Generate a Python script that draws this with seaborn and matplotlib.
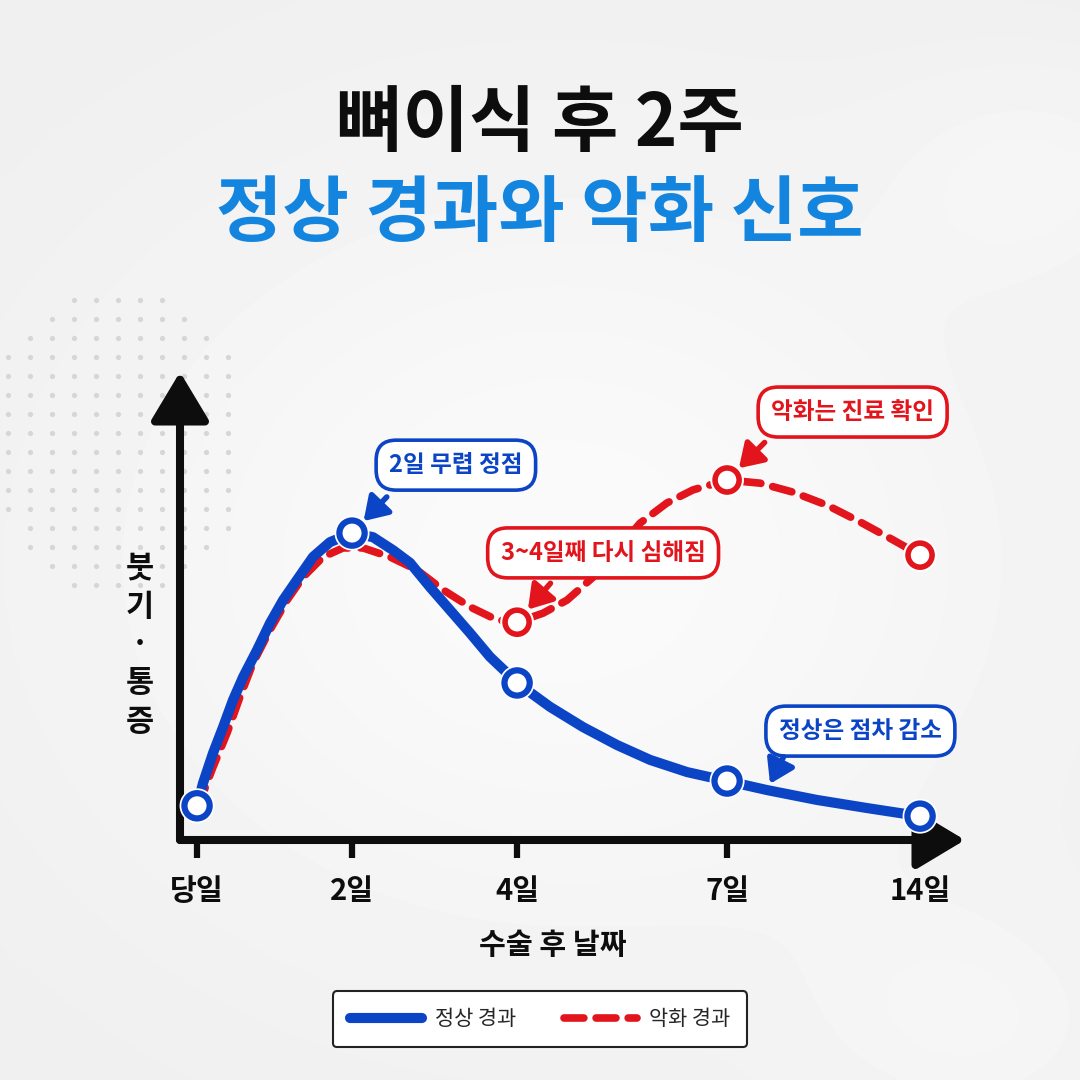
import numpy as np
import pandas as pd
import matplotlib.pyplot as plt
import matplotlib.patheffects as pe
import seaborn as sns

sns.set_theme(style='white')
plt.rcParams['font.family'] = ['Noto Sans CJK KR', 'DejaVu Sans']

## data
days = ['당일', '2일', '4일', '7일', '14일']
day_pos = [0.0, 1.0, 2.065, 3.42, 4.665]
normal_day = [0.76, 6.82, 3.49, 1.31, 0.53]
worse_day = [0.76, 6.49, 4.84, 8.0, 6.33]

# traced curve samples
normal_x = [0.0, 0.039, 0.103, 0.168, 0.232, 0.297, 0.387, 0.471, 0.555, 0.645,
            0.748, 0.858, 1.0, 1.135, 1.265, 1.374, 1.503, 1.632, 1.761, 1.890,
            2.0, 2.065, 2.277, 2.490, 2.710, 2.923, 3.161, 3.42, 3.677, 4.0,
            4.323, 4.665]
normal_y = [0.76, 1.27, 1.93, 2.51, 3.11, 3.62, 4.22, 4.82, 5.33, 5.78,
            6.29, 6.62, 6.82, 6.73, 6.44, 6.16, 5.62, 5.11, 4.60, 4.07,
            3.71, 3.49, 2.96, 2.51, 2.11, 1.78, 1.51, 1.31, 1.11, 0.89,
            0.71, 0.53]
worse_x = [0.0, 0.039, 0.103, 0.194, 0.277, 0.361, 0.471, 0.581, 0.684, 0.813,
           0.942, 1.071, 1.245, 1.419, 1.587, 1.761, 1.935, 2.065, 2.232, 2.387,
           2.555, 2.710, 2.858, 3.032, 3.2, 3.42, 3.632, 3.845, 4.065, 4.277,
           4.490, 4.665]
worse_y = [0.76, 1.04, 1.62, 2.38, 3.18, 3.93, 4.67, 5.33, 5.84, 6.29,
           6.49, 6.49, 6.29, 6.0, 5.56, 5.18, 4.89, 4.84, 5.04, 5.33,
           5.84, 6.44, 7.04, 7.49, 7.78, 8.0, 7.93, 7.73, 7.44, 7.07,
           6.67, 6.33]

BLUE = '#0b45c6'
RED = '#e2141c'
TITLE_BLUE = '#1485df'
INK = '#0d0d0d'

fig = plt.figure(figsize=(10.8, 10.8), dpi=100, facecolor='#f1f1f1')

## soft background
bg = fig.add_axes([0, 0, 1, 1], zorder=-5)
bg.axis('off')
yy, xx = np.mgrid[0:1080:4, 0:1080:4]
light = (0.935
         + 0.045 * np.exp(-(((xx - 560) / 520) ** 2 + ((yy - 560) / 430) ** 2))
         + 0.02 * np.exp(-(((xx - 1040) / 160) ** 2 + ((yy - 170) / 120) ** 2))
         + 0.02 * np.exp(-(((xx - 980) / 200) ** 2 + ((yy - 1030) / 140) ** 2)))
bg.imshow(np.clip(light, 0, 1), cmap='gray', vmin=0, vmax=1,
          extent=(0, 1080, 1080, 0), aspect='auto', interpolation='bilinear')
bg.set_xlim(0, 1080)
bg.set_ylim(1080, 0)
gx, gy = np.meshgrid(np.arange(8, 250, 22), np.arange(300, 590, 19))
keep = ((gx - 120) / 135) ** 2 + ((gy - 440) / 155) ** 2 < 1
bg.scatter(gx[keep], gy[keep], s=14, color='#d6d6d6', lw=0)

## chart axes
ax = fig.add_axes([180 / 1080, 240 / 1080, 785 / 1080, 468 / 1080])
ax.set_facecolor('none')
ax.set_xlim(-0.11, 4.955)
ax.set_ylim(0, 10.4)
for s in ax.spines.values():
    s.set_visible(False)
ax.set_yticks([])
ax.set_xticks(day_pos, days)
ax.tick_params(axis='x', bottom=True, direction='out', length=13, width=4.5,
               color=INK, pad=13, labelsize=21, labelcolor=INK)
for t in ax.get_xticklabels():
    t.set_fontweight('bold')

# axis arrows
head = dict(arrowstyle='-|>,head_length=1.5,head_width=0.9', lw=5.8,
            color=INK, shrinkA=0, shrinkB=0, mutation_scale=20)
ax.annotate('', xy=(4.955, 0), xytext=(-0.11, 0), xycoords='data',
            arrowprops=head, annotation_clip=False)
ax.annotate('', xy=(-0.11, 10.4), xytext=(-0.11, 0), xycoords='data',
            arrowprops=head, annotation_clip=False)

# curves
sns.lineplot(x=worse_x, y=worse_y, sort=False, color=RED, lw=5.5, ax=ax,
             label='악화 경과', zorder=3, clip_on=False)
red_line = ax.lines[-1]
red_line.set_dashes((2.6, 1.6))
red_line.set_dash_capstyle('round')
red_line.set_dash_joinstyle('round')
sns.lineplot(x=normal_x, y=normal_y, sort=False, color=BLUE, lw=7.3, ax=ax,
             label='정상 경과', zorder=4, clip_on=False)
ax.lines[-1].set_solid_capstyle('round')
ax.lines[-1].set_solid_joinstyle('round')

m_red = ax.scatter(day_pos[2:], worse_day[2:], s=300, facecolor='white',
                   edgecolor=RED, lw=4, zorder=5, clip_on=False)
m_blue = ax.scatter(day_pos, normal_day, s=330, facecolor='white',
                    edgecolor=BLUE, lw=4.5, zorder=6, clip_on=False)
for m in (m_red, m_blue):
    m.set_path_effects([pe.Stroke(linewidth=7, foreground='white'), pe.Normal()])

# callouts
def callout(text, xy_box, xy_tip, offset, color, shrink=12):
    ax.text(*xy_box, text, ha='center', va='center', fontsize=17, weight='bold',
            color=color, zorder=8,
            bbox=dict(boxstyle='round,pad=0.55,rounding_size=0.85', fc='white',
                      ec=color, lw=2.6))
    ax.annotate('', xy=xy_tip, xytext=offset, textcoords='offset points',
                arrowprops=dict(arrowstyle='-|>,head_length=0.7,head_width=0.45',
                                lw=4, color=color, shrinkA=0, shrinkB=shrink,
                                mutation_scale=20), zorder=8, annotation_clip=False)

callout('2일 무렵 정점', (1.67, 8.33), (day_pos[1], normal_day[1]), (25, 26), BLUE)
callout('3~4일째 다시 심해짐', (2.62, 6.38), (day_pos[2], worse_day[2]), (24, 28), RED)
callout('악화는 진료 확인', (4.23, 9.51), (day_pos[3], worse_day[3]), (27, 27), RED)
callout('정상은 점차 감소', (4.28, 2.42), (normal_x[28], normal_y[28]), (12, 24), BLUE,
        shrink=5)

# legend
handles, labels = ax.get_legend_handles_labels()
order = [labels.index('정상 경과'), labels.index('악화 경과')]
if ax.get_legend():
    ax.get_legend().remove()
leg = fig.legend([handles[i] for i in order], [labels[i] for i in order],
                 loc='center', bbox_to_anchor=(0.5, 1 - 1019 / 1080), ncol=2,
                 prop={'size': 15, 'weight': 'medium'}, handlelength=3.5,
                 handletextpad=0.6, columnspacing=2.3, borderpad=0.8,
                 frameon=True, fancybox=True)
leg.get_frame().set_edgecolor('#222222')
leg.get_frame().set_linewidth(1.5)
leg.get_frame().set_facecolor('white')
leg.get_frame().set_alpha(1)

## texts
fig.text(0.5, 1 - 125 / 1080, '뼈이식 후 2주', ha='center', va='center',
         fontsize=52, weight='black', color=INK)
fig.text(0.5, 1 - 215 / 1080, '정상 경과와 악화 신호', ha='center', va='center',
         fontsize=52, weight='black', color=TITLE_BLUE)
fig.text(553 / 1080, 1 - 945 / 1080, '수술 후 날짜', ha='center', va='center',
         fontsize=21, weight='bold', color=INK)
fig.text(140 / 1080, 1 - 645 / 1080, '붓\n기\n·\n통\n증', ha='center', va='center',
         fontsize=22, weight='bold', color=INK, linespacing=1.25)

fig.savefig('out.png', dpi=100, facecolor=fig.get_facecolor())
